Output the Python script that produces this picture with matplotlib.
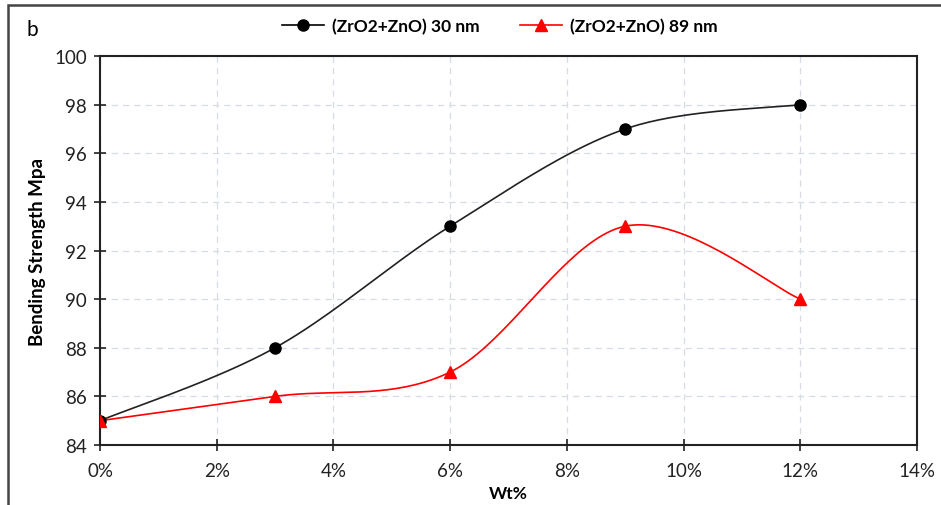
import numpy as np
import matplotlib.pyplot as plt
from matplotlib.patches import Rectangle
from matplotlib.ticker import FuncFormatter

# data
wt = [0, 3, 6, 9, 12]
s30 = [85, 88, 93, 97, 98]
s89 = [85, 86, 87, 93, 90]
labels = ["(ZrO2+ZnO) 30 nm", "(ZrO2+ZnO) 89 nm"]

plt.rcParams['font.family'] = ['Lato', 'DejaVu Sans']


def smooth(x, y, n=40):
    # Excel-like smoothed line (Catmull-Rom as cubic Bezier)
    x = np.asarray(x, float)
    y = np.asarray(y, float)
    px = np.concatenate([[x[0]], x, [x[-1]]])
    py = np.concatenate([[y[0]], y, [y[-1]]])
    xs, ys = [], []
    t = np.linspace(0, 1, n)
    for i in range(1, len(px) - 2):
        p0 = np.array([px[i], py[i]])
        p3 = np.array([px[i + 1], py[i + 1]])
        c1 = p0 + (np.array([px[i + 1], py[i + 1]]) - np.array([px[i - 1], py[i - 1]])) / 6
        c2 = p3 - (np.array([px[i + 2], py[i + 2]]) - np.array([px[i], py[i]])) / 6
        b = ((1 - t) ** 3)[:, None] * p0 + (3 * (1 - t) ** 2 * t)[:, None] * c1 \
            + (3 * (1 - t) * t ** 2)[:, None] * c2 + (t ** 3)[:, None] * p3
        xs.extend(b[:, 0])
        ys.extend(b[:, 1])
    return xs, ys


fig = plt.figure(figsize=(9.41, 5.06), dpi=100)
ax = fig.add_axes([100 / 941, 1 - 446 / 506, 817 / 941, 389 / 506])

# outer frame (cropped)
fig.patches.append(Rectangle((8 / 941, -0.1), 1.2, 1 - 6 / 506 + 0.1, transform=fig.transFigure,
                             fill=False, edgecolor='#444444', lw=1.8))

sx, sy = smooth(wt, s30)
ax.plot(sx, sy, color='#222222', lw=1.2, zorder=3)
ax.plot(wt, s30, 'o', color='black', ms=8, zorder=4)
sx, sy = smooth(wt, s89)
ax.plot(sx, sy, color='#ff0000', lw=1.2, zorder=3)
ax.plot(wt, s89, '^', color='#ff0000', ms=8.5, zorder=4)

# legend proxies
h1, = ax.plot([], [], '-o', color='black', lw=1.2, ms=8)
h2, = ax.plot([], [], '-^', color='#ff0000', lw=1.2, ms=8.5)
fig.legend([h1, h2], labels, loc='center', bbox_to_anchor=(500 / 941, 1 - 27 / 506), ncol=2,
           frameon=False, prop={'weight': 'bold', 'size': 12.5}, handlelength=2.4,
           columnspacing=2.3, handletextpad=0.5)

ax.set_xlim(0, 14)
ax.set_ylim(84, 100)
ax.set_xticks(range(0, 15, 2))
ax.set_yticks(range(84, 101, 2))
ax.xaxis.set_major_formatter(FuncFormatter(lambda v, p: f"{v:.0f}%"))
ax.grid(True, ls=(0, (5, 4)), color='#d6dbe6', lw=0.9)
ax.set_axisbelow(True)
for sp in ax.spines.values():
    sp.set_linewidth(1.5)
    sp.set_color('#222222')
ax.tick_params(direction='inout', length=9, width=1.2, labelsize=13.5, colors='#222222', pad=5)
ax.tick_params(axis='x', pad=8)

ax.set_xlabel("Wt%", fontweight='bold', fontsize=12.5, labelpad=4)
ax.set_ylabel("Bending Strength Mpa", fontweight='bold', fontsize=13.5, labelpad=6)
fig.text(26 / 941, 1 - 30 / 506, "b", fontsize=15, va='center', ha='left')

fig.savefig("out.png", dpi=100)
